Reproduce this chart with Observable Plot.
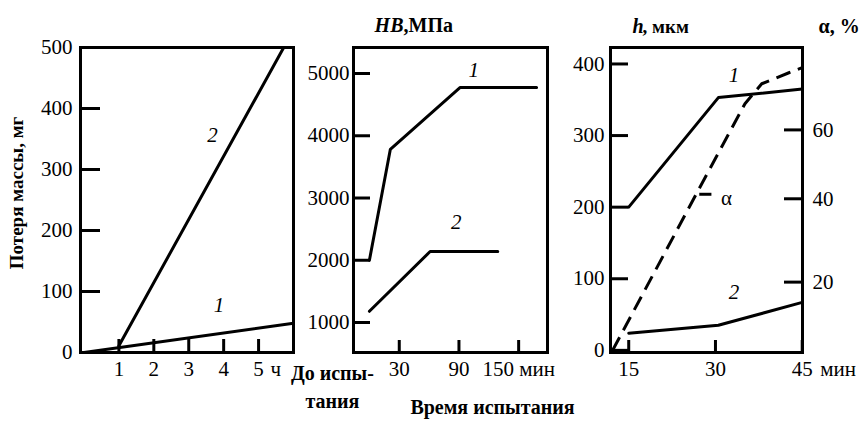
<!DOCTYPE html>
<html><head><meta charset="utf-8">
<script src="https://cdn.jsdelivr.net/npm/d3@7"></script>
<script src="https://cdn.jsdelivr.net/npm/@observablehq/plot@0.6"></script>
<style>
html,body{margin:0;padding:0;background:#fff;}
#chart{position:relative;width:859px;height:421px;overflow:hidden;background:#fff;font-family:"Liberation Serif",serif;}
</style></head><body><div id="chart"></div>
<script>
// ---------- Panel 1: mass loss (mg) vs time (h) ----------
const massTicks = [0, 100, 200, 300, 400, 500];
const hourTicks = [1, 2, 3, 4, 5];
const curve1Hours = [0, 6.0];
const curve1Mass = [0, 48];
const curve2Hours = [1.0, 5.72];
const curve2Mass = [11, 500];
const p1LabelX = [3.87, 3.68];
const p1LabelY = [77, 356];
const p1LabelText = ["1", "2"];

// ---------- Panel 2: HB (MPa) vs time (min) ----------
const hbTicks = [1000, 2000, 3000, 4000, 5000];
const minTicks2 = [30, 90, 150];
const hb1Min = [0, 21, 91, 168];
const hb1Val = [2000, 3780, 4775, 4775];
const hb2Min = [0, 61, 129];
const hb2Val = [1180, 2140, 2140];
const p2LabelX = [104.8, 87.4];
const p2LabelY = [5060, 2611];
const p2LabelText = ["1", "2"];

// ---------- Panel 3: h (µm) and α (%) vs time (min) ----------
const hTicks = [0, 100, 200, 300, 400];
const alphaTicks = [20, 40, 60];
const minTicks3 = [15, 30, 45];
const h1Min = [15, 30.5, 45];
const h1Val = [200, 353, 365];
const h2Min = [15, 30.5, 45];
const h2Val = [24, 35, 67];
const alphaMin = [12.2, 26.4, 35.1, 38.0, 42.7, 45.0];
const alphaVal = [3.6, 40.5, 67.6, 73.4, 76.6, 78.1];
const p3LabelX = [33.2, 33.2];
const p3LabelY = [384, 81];
const p3LabelText = ["1", "2"];
const alphaTagMin = [31.9];
const alphaTagH = [213];
const alphaLeaderMin1 = [27.2], alphaLeaderMin2 = [29.3], alphaLeaderH = [218];
// secondary (α) axis reference: α values and their h-equivalents on the shared frame
const alphaRef = [0, 20, 40, 60, 80];
const alphaRefH = [-21.1, 95.3, 211.7, 307.9, 404.1];
const alphaToH = d3.scaleLinear().domain(alphaRef).range(alphaRefH);

const FONT = "Liberation Serif";
const chart = document.getElementById("chart");
const zip = (xs, ys) => xs.map((x, i) => ({x, y: ys[i]}));
const style = {fontFamily: "\"Liberation Serif\", serif", fontSize: "21px", background: "transparent", overflow: "visible", color: "#000"};
const SW = 3;
const fmt = d => String(d);

function place(svg, left) {
  svg.style.position = "absolute";
  svg.style.left = left + "px";
  svg.style.top = "0px";
  chart.appendChild(svg);
}

const MT = 47, MB = 69, fh = 421 - MT - MB;

// Panel 1
const W1 = 300, ML1 = 80, MR1 = 7;
const fw1 = W1 - ML1 - MR1;
place(Plot.plot({
  width: W1, height: 421, marginLeft: ML1, marginRight: MR1, marginTop: MT, marginBottom: MB,
  style,
  x: {domain: [-0.1, 6.0], ticks: hourTicks, tickSize: 0, tickPadding: 9, label: null, tickFormat: fmt},
  y: {domain: [0, 500], ticks: massTicks, tickSize: 0, tickPadding: 8, label: null, tickFormat: fmt},
  marks: [
    Plot.tickY(massTicks, {y: d => d, insetRight: fw1 - 20, strokeWidth: SW, stroke: "#000"}),
    Plot.tickX(hourTicks, {x: d => d, insetTop: fh - 13, strokeWidth: SW, stroke: "#000"}),
    Plot.line(zip(curve1Hours, curve1Mass), {x: "x", y: "y", strokeWidth: SW, stroke: "#000"}),
    Plot.line(zip(curve2Hours, curve2Mass), {x: "x", y: "y", strokeWidth: SW, stroke: "#000"}),
    Plot.text(p1LabelText, {x: (d, i) => p1LabelX[i], y: (d, i) => p1LabelY[i], text: d => d, fontStyle: "italic", fontSize: 21, fontFamily: FONT}),
    Plot.text(["ч"], {x: [hourTicks[hourTicks.length - 1]], frameAnchor: "bottom", text: d => d, textAnchor: "start", lineAnchor: "top", dx: 12, dy: 9, fontSize: 21, fontFamily: FONT}),
    Plot.text(["Потеря массы, мг"], {frameAnchor: "left", text: d => d, rotate: -90, textAnchor: "middle", dx: -64, dy: -7, fontWeight: "bold", fontSize: 19, fontFamily: FONT}),
    Plot.frame({strokeWidth: SW, stroke: "#000"})
  ]
}), 0);

// Panel 2
const W2 = 330, ML2 = 83, MR2 = 53;
const fw2 = W2 - ML2 - MR2;
place(Plot.plot({
  width: W2, height: 421, marginLeft: ML2, marginRight: MR2, marginTop: MT, marginBottom: MB,
  style,
  x: {domain: [-16, 179], ticks: minTicks2, tickSize: 0, tickPadding: 9, label: null,
      tickFormat: d => d === minTicks2[minTicks2.length - 1] ? d + " мин" : String(d)},
  y: {domain: [518, 5418], ticks: hbTicks, tickSize: 0, tickPadding: 4, label: null, tickFormat: fmt},
  marks: [
    Plot.tickY(hbTicks, {y: d => d, insetRight: fw2 - 17, strokeWidth: SW, stroke: "#000"}),
    Plot.tickX(minTicks2, {x: d => d, insetTop: fh - 12, strokeWidth: SW, stroke: "#000"}),
    Plot.line(zip(hb1Min, hb1Val), {x: "x", y: "y", strokeWidth: SW, stroke: "#000"}),
    Plot.line(zip(hb2Min, hb2Val), {x: "x", y: "y", strokeWidth: SW, stroke: "#000"}),
    Plot.text(p2LabelText, {x: (d, i) => p2LabelX[i], y: (d, i) => p2LabelY[i], text: d => d, fontStyle: "italic", fontSize: 21, fontFamily: FONT}),
    Plot.text(["До испы-\nтания"], {x: [0], frameAnchor: "bottom", text: d => d, lineAnchor: "top", lineHeight: 1.4, dx: -37, dy: 8, fontWeight: "bold", fontSize: 20, fontFamily: FONT}),
    Plot.text(["HB"], {frameAnchor: "top-left", text: d => d, textAnchor: "end", lineAnchor: "middle", dx: 50, dy: -22, fontWeight: "bold", fontStyle: "italic", fontSize: 20, fontFamily: FONT}),
    Plot.text([",МПа"], {frameAnchor: "top-left", text: d => d, textAnchor: "start", lineAnchor: "middle", dx: 50, dy: -22, fontWeight: "bold", fontSize: 20, fontFamily: FONT}),
    Plot.text(["Время испытания"], {frameAnchor: "bottom", text: d => d, lineAnchor: "middle", dx: 42, dy: 55, fontWeight: "bold", fontSize: 20, fontFamily: FONT}),
    Plot.frame({strokeWidth: SW, stroke: "#000"})
  ]
}), 270);

// Panel 3
const W3 = 299, ML3 = 50, MR3 = 57;
const fw3 = W3 - ML3 - MR3;
place(Plot.plot({
  width: W3, height: 421, marginLeft: ML3, marginRight: MR3, marginTop: MT, marginBottom: MB,
  style,
  x: {domain: [11.85, 45.05], ticks: minTicks3, tickSize: 0, tickPadding: 9, label: null, tickFormat: fmt},
  y: {domain: [-3, 423], ticks: hTicks, tickSize: 0, tickPadding: 6, label: null, tickFormat: fmt},
  marks: [
    Plot.tickY(hTicks, {y: d => d, insetRight: fw3 - 18, strokeWidth: SW, stroke: "#000"}),
    Plot.tickY(alphaTicks, {y: d => alphaToH(d), insetLeft: fw3 - 18, strokeWidth: SW, stroke: "#000"}),
    Plot.text(alphaTicks, {y: d => alphaToH(d), text: d => String(d), frameAnchor: "right", textAnchor: "start", dx: 10, fontSize: 21, fontFamily: FONT}),
    Plot.tickX(minTicks3, {x: d => d, insetTop: fh - 12, strokeWidth: SW, stroke: "#000"}),
    Plot.line(zip(h1Min, h1Val), {x: "x", y: "y", strokeWidth: SW, stroke: "#000"}),
    Plot.line(zip(h2Min, h2Val), {x: "x", y: "y", strokeWidth: SW, stroke: "#000"}),
    Plot.line(zip(alphaMin, alphaVal), {x: "x", y: d => alphaToH(d.y), strokeWidth: SW, stroke: "#000", strokeDasharray: "15,8", strokeLinecap: "butt"}),
    Plot.link(alphaLeaderH, {x1: (d, i) => alphaLeaderMin1[i], x2: (d, i) => alphaLeaderMin2[i], y1: d => d, y2: d => d, strokeWidth: SW, stroke: "#000"}),
    Plot.text(["α"], {x: alphaTagMin, y: alphaTagH, text: d => d, fontSize: 21, fontFamily: FONT}),
    Plot.text(p3LabelText, {x: (d, i) => p3LabelX[i], y: (d, i) => p3LabelY[i], text: d => d, fontStyle: "italic", fontSize: 21, fontFamily: FONT}),
    Plot.text(["мин"], {x: [minTicks3[minTicks3.length - 1]], frameAnchor: "bottom", text: d => d, textAnchor: "start", lineAnchor: "top", dx: 18, dy: 9, fontSize: 21, fontFamily: FONT}),
    Plot.text(["h"], {frameAnchor: "top-left", text: d => d, textAnchor: "start", lineAnchor: "middle", dx: 22, dy: -21, fontWeight: "bold", fontStyle: "italic", fontSize: 20, fontFamily: FONT}),
    Plot.text([", мкм"], {frameAnchor: "top-left", text: d => d, textAnchor: "start", lineAnchor: "middle", dx: 32, dy: -21, fontWeight: "bold", fontSize: 19, fontFamily: FONT}),
    Plot.text(["α, %"], {frameAnchor: "top-right", text: d => d, textAnchor: "start", lineAnchor: "middle", dx: 16, dy: -21, fontWeight: "bold", fontSize: 20, fontFamily: FONT}),
    Plot.frame({strokeWidth: SW, stroke: "#000"})
  ]
}), 560);
</script></body></html>
